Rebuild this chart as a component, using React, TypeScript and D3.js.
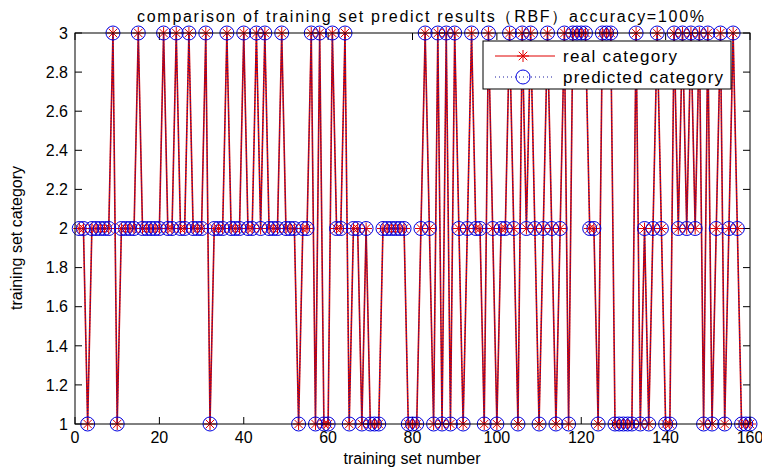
import React, { useEffect, useRef } from 'react';
import * as d3 from 'd3';

// category of each training sample (1..160)
const realCategory = [
  2, 2, 1, 2, 2, 2, 2, 2, 3, 1, 2, 2, 2, 2, 3, 2, 2, 2, 2, 2,
  3, 2, 2, 3, 2, 2, 3, 2, 2, 2, 3, 1, 2, 2, 2, 3, 2, 2, 2, 3,
  2, 2, 3, 2, 3, 2, 2, 2, 3, 2, 2, 2, 1, 2, 2, 3, 1, 3, 1, 1,
  3, 2, 2, 3, 1, 2, 2, 1, 2, 1, 1, 1, 2, 2, 2, 2, 2, 2, 1, 1,
  1, 2, 3, 2, 1, 3, 1, 3, 1, 3, 2, 1, 2, 3, 2, 2, 1, 3, 2, 1,
  2, 2, 3, 2, 1, 3, 2, 3, 2, 1, 2, 3, 2, 1, 2, 3, 1, 3, 3, 3,
  3, 2, 2, 1, 3, 3, 3, 1, 1, 1, 1, 1, 3, 1, 2, 1, 2, 3, 2, 1,
  1, 3, 2, 3, 2, 3, 2, 3, 1, 3, 1, 2, 3, 1, 2, 3, 2, 1, 1, 1,
];
// accuracy=100%: the prediction is the same sequence
const predictedCategory = [...realCategory];

const xTicks = [0, 20, 40, 60, 80, 100, 120, 140, 160];
const yTicks = [1, 1.2, 1.4, 1.6, 1.8, 2, 2.2, 2.4, 2.6, 2.8, 3];
const yTickLabels = ['1', '1.2', '1.4', '1.6', '1.8', '2', '2.2', '2.4', '2.6', '2.8', '3'];

const FONT = "'Liberation Sans', Arial, Helvetica, sans-serif";

const App = () => {
  const svgRef = useRef<SVGSVGElement>(null);

  useEffect(() => {
    const svg = d3.select(svgRef.current);
    svg.selectAll('*').remove();

    const left = 75, right = 750, top = 33, bottom = 424;

    const x = d3.scaleLinear().domain([0, 160]).range([left, right]);
    const y = d3.scaleLinear().domain([1, 3]).range([bottom, top]);

    svg.append('rect').attr('width', 762).attr('height', 470).attr('fill', '#fff');

    // ticks (inward, on all four sides)
    const tk = 7;
    const axes = svg.append('g').attr('stroke', '#000').attr('stroke-width', 1);
    xTicks.forEach(t => {
      axes.append('line').attr('x1', x(t)).attr('x2', x(t)).attr('y1', bottom).attr('y2', bottom - tk);
      axes.append('line').attr('x1', x(t)).attr('x2', x(t)).attr('y1', top).attr('y2', top + tk);
    });
    yTicks.forEach(t => {
      axes.append('line').attr('x1', left).attr('x2', left + tk).attr('y1', y(t)).attr('y2', y(t));
      axes.append('line').attr('x1', right).attr('x2', right - tk).attr('y1', y(t)).attr('y2', y(t));
    });

    const idx = d3.range(1, realCategory.length + 1);
    const line = d3.line<number>().x(d => x(d)).y((d, i) => y(realCategory[i]));
    const linePred = d3.line<number>().x(d => x(d)).y((d, i) => y(predictedCategory[i]));

    const starPath = (r: number) => {
      const a = r * 0.7071;
      return `M${-r},0L${r},0M0,${-r}L0,${r}M${-a},${-a}L${a},${a}M${-a},${a}L${a},${-a}`;
    };

    // real category: red solid line with * markers
    svg.append('path')
      .attr('d', line(idx))
      .attr('fill', 'none')
      .attr('stroke', '#d40000')
      .attr('stroke-width', 1.6);
    svg.append('g').selectAll('path')
      .data(idx)
      .enter().append('path')
      .attr('transform', (d, i) => `translate(${x(d)},${y(realCategory[i])})`)
      .attr('d', starPath(6))
      .attr('stroke', '#e00000')
      .attr('stroke-width', 1)
      .attr('fill', 'none');

    // predicted category: blue dotted line with circle markers
    svg.append('path')
      .attr('d', linePred(idx))
      .attr('fill', 'none')
      .attr('stroke', '#1a1aa0')
      .attr('stroke-width', 1)
      .attr('stroke-dasharray', '1,2');
    svg.append('g').selectAll('circle')
      .data(idx)
      .enter().append('circle')
      .attr('cx', d => x(d))
      .attr('cy', (d, i) => y(predictedCategory[i]))
      .attr('r', 7)
      .attr('stroke', '#0000e0')
      .attr('stroke-width', 1)
      .attr('fill', 'none');

    // box
    svg.append('rect')
      .attr('x', left).attr('y', top)
      .attr('width', right - left).attr('height', bottom - top)
      .attr('fill', 'none').attr('stroke', '#000').attr('stroke-width', 1);

    // tick labels
    const txt = svg.append('g').attr('font-family', FONT).attr('fill', '#000');
    xTicks.forEach(t => {
      txt.append('text')
        .attr('x', x(t)).attr('y', 443)
        .attr('text-anchor', 'middle')
        .attr('font-size', 16)
        .text(String(t));
    });
    yTicks.forEach((t, i) => {
      txt.append('text')
        .attr('x', 68).attr('y', y(t))
        .attr('dy', '0.36em')
        .attr('text-anchor', 'end')
        .attr('font-size', 16)
        .text(yTickLabels[i]);
    });

    // title and axis labels
    txt.append('text')
      .attr('x', 137).attr('y', 22)
      .attr('font-size', 16)
      .attr('textLength', 567)
      .attr('lengthAdjust', 'spacing')
      .text('comparison of training set predict results（RBF）accuracy=100%');
    txt.append('text')
      .attr('x', 412).attr('y', 464)
      .attr('text-anchor', 'middle')
      .attr('font-size', 16)
      .text('training set number');
    txt.append('text')
      .attr('transform', 'translate(22,238) rotate(-90)')
      .attr('text-anchor', 'middle')
      .attr('font-size', 16)
      .text('training set category');

    // legend
    const lg = svg.append('g');
    lg.append('rect')
      .attr('x', 483).attr('y', 41).attr('width', 248).attr('height', 48)
      .attr('fill', '#fff').attr('stroke', '#000').attr('stroke-width', 1);
    lg.append('line')
      .attr('x1', 495).attr('x2', 555).attr('y1', 56).attr('y2', 56)
      .attr('stroke', '#e00000').attr('stroke-width', 1);
    lg.append('path')
      .attr('transform', 'translate(523,56)')
      .attr('d', starPath(6))
      .attr('stroke', '#e00000').attr('fill', 'none');
    lg.append('line')
      .attr('x1', 495).attr('x2', 555).attr('y1', 77).attr('y2', 77)
      .attr('stroke', '#1a1aa0').attr('stroke-width', 1).attr('stroke-dasharray', '1,3');
    lg.append('circle')
      .attr('cx', 523).attr('cy', 77).attr('r', 7)
      .attr('stroke', '#0000e0').attr('fill', 'none');
    lg.append('text')
      .attr('x', 563).attr('y', 56).attr('dy', '0.36em')
      .attr('font-family', FONT).attr('font-size', 17)
      .attr('textLength', 114).attr('lengthAdjust', 'spacing')
      .text('real category');
    lg.append('text')
      .attr('x', 563).attr('y', 77).attr('dy', '0.36em')
      .attr('font-family', FONT).attr('font-size', 17)
      .attr('textLength', 160).attr('lengthAdjust', 'spacing')
      .text('predicted category');
  }, []);

  return (
    <div style={{ position: 'absolute', left: 0, top: 0, width: 762, height: 470 }}>
      <svg ref={svgRef} width={762} height={470} style={{ display: 'block', background: 'white' }} />
    </div>
  );
};

export default App;
